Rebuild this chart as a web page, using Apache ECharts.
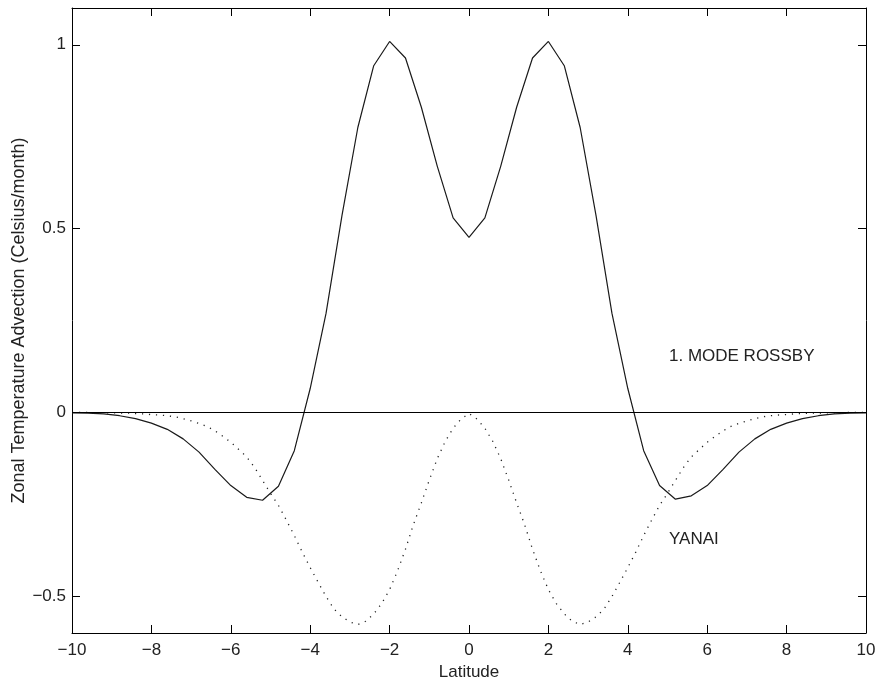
<!DOCTYPE html>
<html>
<head>
<meta charset="utf-8">
<script src="https://cdn.jsdelivr.net/npm/echarts@6/dist/echarts.min.js"></script>
<style>
  html, body { margin: 0; padding: 0; background: #fff; }
  #chart { width: 877px; height: 678px; }
</style>
</head>
<body>
<div id="chart"></div>
<script>
// 1. mode Rossby: sampled every 0.4 deg
var rossbyLat = [
    -10, -9.6, -9.2, -8.8, -8.4, -8, -7.6, -7.2, -6.8, -6.4, -6, -5.6, -5.2,
    -4.8, -4.4, -4, -3.6, -3.2, -2.8, -2.4, -2, -1.6, -1.2, -0.8, -0.4, 0,
    0.4, 0.8, 1.2, 1.6, 2, 2.4, 2.8, 3.2, 3.6, 4, 4.4, 4.8, 5.2, 5.6, 6,
    6.4, 6.8, 7.2, 7.6, 8, 8.4, 8.8, 9.2, 9.6, 10
];
var rossbyAdv = [
    -0.001, -0.002, -0.004, -0.009, -0.017, -0.029, -0.046, -0.072, -0.108, -0.155, -0.199, -0.231, -0.239,
    -0.201, -0.104, 0.065, 0.27, 0.535, 0.775, 0.943, 1.009, 0.964, 0.830, 0.670, 0.529, 0.476,
    0.529, 0.670, 0.830, 0.964, 1.009, 0.943, 0.775, 0.535, 0.27, 0.065, -0.104, -0.199, -0.236, -0.227, -0.199,
    -0.155, -0.108, -0.072, -0.046, -0.029, -0.017, -0.009, -0.004, -0.002, -0.001
];

// Yanai: sampled every 0.2 deg
var yanaiLat = [
    -10, -9.8, -9.6, -9.4, -9.2, -9, -8.8, -8.6, -8.4, -8.2,
    -8, -7.8, -7.6, -7.4, -7.2, -7, -6.8, -6.6, -6.4, -6.2,
    -6, -5.8, -5.6, -5.4, -5.2, -5, -4.8, -4.6, -4.4, -4.2,
    -4, -3.8, -3.6, -3.4, -3.2, -3, -2.8, -2.6, -2.4, -2.2,
    -2, -1.8, -1.6, -1.4, -1.2, -1, -0.8, -0.6, -0.4, -0.2,
    0,
    0.2, 0.4, 0.6, 0.8, 1, 1.2, 1.4, 1.6, 1.8, 2,
    2.2, 2.4, 2.6, 2.8, 3, 3.2, 3.4, 3.6, 3.8, 4,
    4.2, 4.4, 4.6, 4.8, 5, 5.2, 5.4, 5.6, 5.8, 6,
    6.2, 6.4, 6.6, 6.8, 7, 7.2, 7.4, 7.6, 7.8, 8,
    8.2, 8.4, 8.6, 8.8, 9, 9.2, 9.4, 9.6, 9.8, 10
];
var yanaiAdv = [
    0, 0, 0, -0.001, -0.001, -0.001, -0.002, -0.002, -0.003, -0.004,
    -0.006, -0.007, -0.009, -0.012, -0.017, -0.023, -0.030, -0.038, -0.050, -0.065,
    -0.081, -0.101, -0.121, -0.150, -0.185, -0.220, -0.253, -0.293, -0.335, -0.380,
    -0.422, -0.462, -0.501, -0.535, -0.556, -0.570, -0.577, -0.568, -0.548, -0.520,
    -0.482, -0.431, -0.372, -0.305, -0.246, -0.184, -0.126, -0.079, -0.043, -0.018,
    -0.003,
    -0.018, -0.043, -0.079, -0.126, -0.184, -0.246, -0.305, -0.372, -0.431, -0.482,
    -0.520, -0.548, -0.568, -0.577, -0.570, -0.556, -0.535, -0.501, -0.462, -0.422,
    -0.380, -0.335, -0.293, -0.253, -0.220, -0.185, -0.150, -0.121, -0.101, -0.081,
    -0.065, -0.050, -0.038, -0.030, -0.023, -0.017, -0.012, -0.009, -0.007, -0.006,
    -0.004, -0.003, -0.002, -0.002, -0.001, -0.001, -0.001, 0, 0, 0
];

var yTicks = [-0.5, 0, 0.5, 1];

function pairs(xs, ys) {
    var out = [];
    for (var i = 0; i < xs.length; i++) out.push([xs[i], ys[i]]);
    return out;
}

// matlab style minus sign
function fmt(v) {
    return String(v).replace('-', '\u2212');
}

var font = 'Liberation Sans, Arial, Helvetica, sans-serif';
var ink = '#222';

var frameX = {
    type: 'value', min: -10, max: 10, interval: 2,
    axisLine: { show: true, onZero: false, lineStyle: { color: '#000', width: 1 } },
    axisTick: { show: true, inside: true, length: 8, lineStyle: { color: '#000' } },
    splitLine: { show: false }
};
var frameY = {
    type: 'value', min: -0.6, max: 1.1,
    axisLine: { show: true, onZero: false, lineStyle: { color: '#000', width: 1 } },
    axisTick: { show: true, inside: true, length: 8, customValues: yTicks, lineStyle: { color: '#000' } },
    splitLine: { show: false }
};

var chart = echarts.init(document.getElementById('chart'), null, { renderer: 'canvas' });
var option = {
    animation: false,
    backgroundColor: '#fff',
    grid: { left: 72, right: 11, top: 8, bottom: 45, containLabel: false, outerBoundsMode: 'none' },
    xAxis: [
        Object.assign({}, frameX, {
            position: 'bottom',
            name: 'Latitude',
            nameLocation: 'middle',
            nameGap: 31,
            nameMoveOverlap: false,
            nameTextStyle: { fontFamily: font, fontSize: 17, color: ink },
            axisLabel: { show: true, margin: 9, fontFamily: font, fontSize: 17, color: ink, formatter: fmt }
        }),
        Object.assign({}, frameX, { position: 'top', axisLabel: { show: false } })
    ],
    yAxis: [
        Object.assign({}, frameY, {
            position: 'left',
            name: 'Zonal Temperature Advection (Celsius/month)',
            nameLocation: 'middle',
            nameGap: 44,
            nameMoveOverlap: false,
            nameTextStyle: { fontFamily: font, fontSize: 18, color: ink },
            axisLabel: { show: true, margin: 6, customValues: yTicks, fontFamily: font, fontSize: 17, color: ink, formatter: fmt }
        }),
        Object.assign({}, frameY, { position: 'right', axisLabel: { show: false } })
    ],
    series: [
        {
            name: '1. MODE ROSSBY',
            type: 'line',
            data: pairs(rossbyLat, rossbyAdv),
            showSymbol: false,
            lineStyle: { color: '#1a1a1a', width: 1.2 },
            markLine: {
                silent: true,
                symbol: 'none',
                label: { show: false },
                lineStyle: { color: '#000', width: 1, type: 'solid' },
                data: [{ yAxis: 0 }]
            }
        },
        {
            name: 'YANAI',
            type: 'line',
            data: pairs(yanaiLat, yanaiAdv),
            showSymbol: false,
            lineStyle: { color: '#222', width: 1.3, type: [1.2, 5.8] }
        }
    ],
    graphic: [
        {
            type: 'text', left: 669, top: 348,
            style: { text: '1. MODE ROSSBY', font: '17px ' + font, fill: ink }
        },
        {
            type: 'text', left: 669, top: 531,
            style: { text: 'YANAI', font: '17px ' + font, fill: ink }
        }
    ]
};
chart.setOption(option);
</script>
</body>
</html>
